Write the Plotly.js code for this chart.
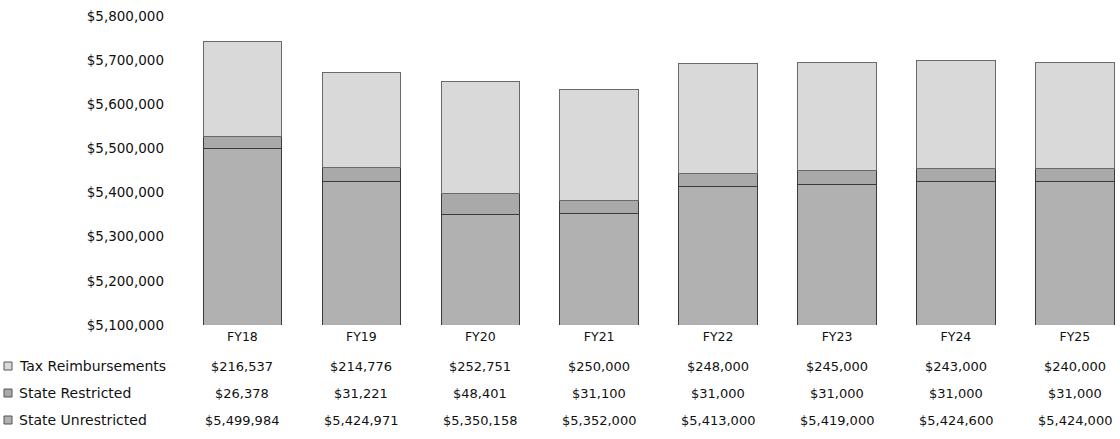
<!DOCTYPE html>
<html>
<head>
<meta charset="utf-8">
<script src="https://cdn.plot.ly/plotly-3.0.1.min.js"></script>
<style>html,body{margin:0;padding:0;background:#fff;}#chart{width:1120px;height:439px;}</style>
</head>
<body>
<div id="chart"></div>
<script>
const categories = ["FY18","FY19","FY20","FY21","FY22","FY23","FY24","FY25"];
const seriesNames = ["Tax Reimbursements","State Restricted","State Unrestricted"];
const taxReimbursements = [216537,214776,252751,250000,248000,245000,243000,240000];
const stateRestricted = [26378,31221,48401,31100,31000,31000,31000,31000];
const stateUnrestricted = [5499984,5424971,5350158,5352000,5413000,5419000,5424600,5424000];
const yTicks = [5100000,5200000,5300000,5400000,5500000,5600000,5700000,5800000];

const fmt = v => "$" + v.toLocaleString("en-US");
const colors = {"Tax Reimbursements":"#d9d9d9","State Restricted":"#a9a9a9","State Unrestricted":"#b1b1b1"};
const seriesData = {"Tax Reimbursements":taxReimbursements,"State Restricted":stateRestricted,"State Unrestricted":stateUnrestricted};

const traces = ["State Unrestricted","State Restricted","Tax Reimbursements"].map(n => ({
  type:"bar", name:n, x:categories, y:seriesData[n],
  width:0.66,
  marker:{color:colors[n], line:{color:n === "Tax Reimbursements" ? "#6a6a6a" : "#3a3a3a", width:1}},
  hoverinfo:"name+y"
}));

const L = 183, R = 1120, W = 1120, H = 439, T = 16, B = 325;
const pw = R - L, ph = B - T;
const px2x = px => (px - L) / pw;
const py2y = py => (B - py) / ph;
const FONT = "DejaVu Sans, sans-serif";

const annotations = [];
const shapes = [];
const rowY = [366, 393, 420];
seriesNames.forEach((n, r) => {
  annotations.push({xref:"paper", yref:"paper", x:px2x(17), y:py2y(rowY[r]), xanchor:"left", yanchor:"middle",
    text:n, showarrow:false, font:{family:FONT, size:14, color:"#111"}});
  shapes.push({type:"rect", xref:"paper", yref:"paper", x0:px2x(4), x1:px2x(12), y0:py2y(rowY[r]+4), y1:py2y(rowY[r]-4),
    fillcolor:colors[n], line:{color:"#555", width:1}});
  seriesData[n].forEach((v, i) => {
    annotations.push({xref:"x", yref:"paper", x:categories[i], y:py2y(rowY[r]), xanchor:"center", yanchor:"middle",
      text:fmt(v), showarrow:false, font:{family:FONT, size:13, color:"#111"}});
  });
});

const layout = {
  width:W, height:H,
  margin:{l:L, r:W-R, t:T, b:H-B, pad:0},
  paper_bgcolor:"#fff", plot_bgcolor:"#fff",
  barmode:"stack", showlegend:false,
  xaxis:{range:[-0.5, 7.38], showgrid:false, zeroline:false, showline:false, ticks:"",
    tickfont:{family:FONT, size:12.5, color:"#111"}, ticklabelstandoff:2},
  yaxis:{range:[5100000, 5800000], tickvals:yTicks, ticktext:yTicks.map(fmt), showgrid:false, zeroline:false,
    showline:false, ticks:"", tickfont:{family:FONT, size:13.5, color:"#111"}, ticklabelstandoff:18},
  annotations, shapes
};
Plotly.newPlot("chart", traces, layout, {displayModeBar:false, staticPlot:true});
</script>
</body>
</html>
